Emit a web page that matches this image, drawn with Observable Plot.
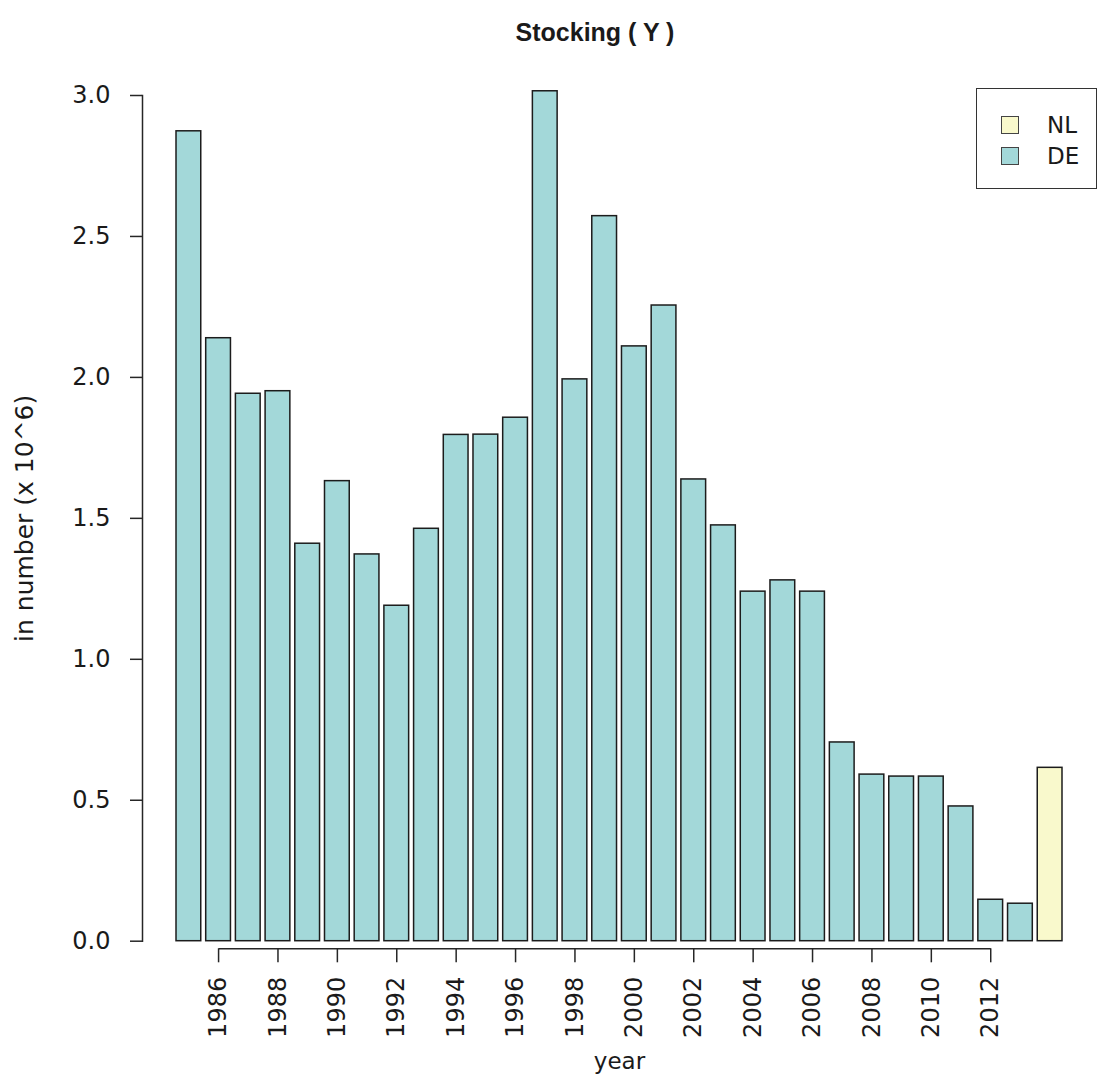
<!DOCTYPE html>
<html>
<head>
<meta charset="utf-8">
<script src="https://cdn.jsdelivr.net/npm/d3@7"></script>
<script src="https://cdn.jsdelivr.net/npm/@observablehq/plot@0.6"></script>
<style>
  html, body { margin: 0; padding: 0; background: #fff; }
  #wrap { position: relative; width: 1102px; height: 1083px; font-family: "DejaVu Sans", sans-serif; color: #1a1a1a; }
  #title { position: absolute; left: 0; width: 1190px; top: 20px; text-align: center; font-family: "Liberation Sans", Arial, sans-serif; font-weight: bold; font-size: 25px; line-height: 25px; }
  #chart { position: absolute; left: 0; top: 66px; }
  #legend { position: absolute; left: 976px; top: 88px; width: 119px; height: 99px; border: 1.5px solid #333; background: #fff; font-size: 23px; line-height: 23px; }
  .sw { position: absolute; left: 24px; width: 16px; height: 16px; border: 1.2px solid #444; }
  .lt { position: absolute; left: 70px; }
</style>
</head>
<body>
<div id="wrap">
  <div id="title">Stocking ( Y )</div>
  <div id="chart"></div>
  <div id="legend"></div>
</div>
<script>
// ---- data ----
const years = [1985,1986,1987,1988,1989,1990,1991,1992,1993,1994,1995,1996,1997,1998,1999,
               2000,2001,2002,2003,2004,2005,2006,2007,2008,2009,2010,2011,2012,2013,2014];
const DE = [2.873,2.139,1.942,1.951,1.410,1.632,1.372,1.190,1.463,1.796,1.797,1.857,3.015,1.993,2.572,
            2.110,2.255,1.638,1.475,1.240,1.280,1.240,0.705,0.591,0.584,0.584,0.478,0.147,0.133,0];
const NL = [0,0,0,0,0,0,0,0,0,0,0,0,0,0,0,
            0,0,0,0,0,0,0,0,0,0,0,0,0,0,0.615];
const countries = ["NL","DE"];
const countryColors = ["#f9f9cc","#a3d8d9"];
const xTicks = [1986,1988,1990,1992,1994,1996,1998,2000,2002,2004,2006,2008,2010,2012];
const yTicks = [0,0.5,1.0,1.5,2.0,2.5,3.0];

const rows = [];
years.forEach((yr, i) => {
  if (DE[i] > 0) rows.push({year: yr, country: "DE", value: DE[i]});
  if (NL[i] > 0) rows.push({year: yr, country: "NL", value: NL[i]});
});

const axisColor = "#262626";

const chart = Plot.plot({
  width: 1102,
  height: 1017,
  marginLeft: 142,
  marginRight: 6,
  marginTop: 29,
  marginBottom: 142.3,
  style: {fontFamily: "DejaVu Sans, sans-serif", fontSize: "24px", color: "#1a1a1a", background: "#fff"},
  x: {type: "band", domain: years, paddingInner: 0.1667, paddingOuter: 1.145, round: false},
  y: {domain: [0, 3]},
  color: {domain: countries, range: countryColors},
  marks: [
    Plot.barY(rows, {x: "year", y: "value", fill: "country", stroke: "#1c1c1c", strokeWidth: 1.5}),
    Plot.frame({anchor: "left", stroke: axisColor, strokeWidth: 1.5}),
    Plot.axisY({ticks: yTicks, tickFormat: d => d.toFixed(1), tickSize: 12, tickPadding: 20,
                stroke: axisColor, strokeWidth: 1.5, fill: "#1a1a1a", fontSize: 24,
                label: null}),
    Plot.axisY({ticks: [], label: "in number (x 10^6)", labelAnchor: "center", labelArrow: "none",
                labelOffset: 127, fontSize: 25, fill: "#1a1a1a"}),
    Plot.link([0], {x1: () => xTicks[0], x2: () => xTicks[xTicks.length - 1], y1: () => 0, y2: () => 0,
                    dy: 7.6, stroke: axisColor, strokeWidth: 1.5}),
    Plot.axisX({ticks: xTicks, tickFormat: d => String(d), tickRotate: -90, tickSize: 14, tickPadding: 14,
                dy: 7.6, stroke: axisColor, strokeWidth: 1.5, fill: "#1a1a1a", fontSize: 24, label: null}),
    Plot.axisX({ticks: [], label: "year", labelAnchor: "center", labelArrow: "none",
                labelOffset: 128, fontSize: 23, fill: "#1a1a1a"})
  ]
});
document.getElementById("chart").appendChild(chart);

// legend (HTML, built from the same arrays)
const leg = document.getElementById("legend");
countries.forEach((c, i) => {
  const sw = document.createElement("div");
  sw.className = "sw";
  sw.style.top = (27 + i * 31) + "px";
  sw.style.background = countryColors[i];
  leg.appendChild(sw);
  const t = document.createElement("div");
  t.className = "lt";
  t.style.top = (25 + i * 31) + "px";
  t.textContent = c;
  leg.appendChild(t);
});
</script>
</body>
</html>
